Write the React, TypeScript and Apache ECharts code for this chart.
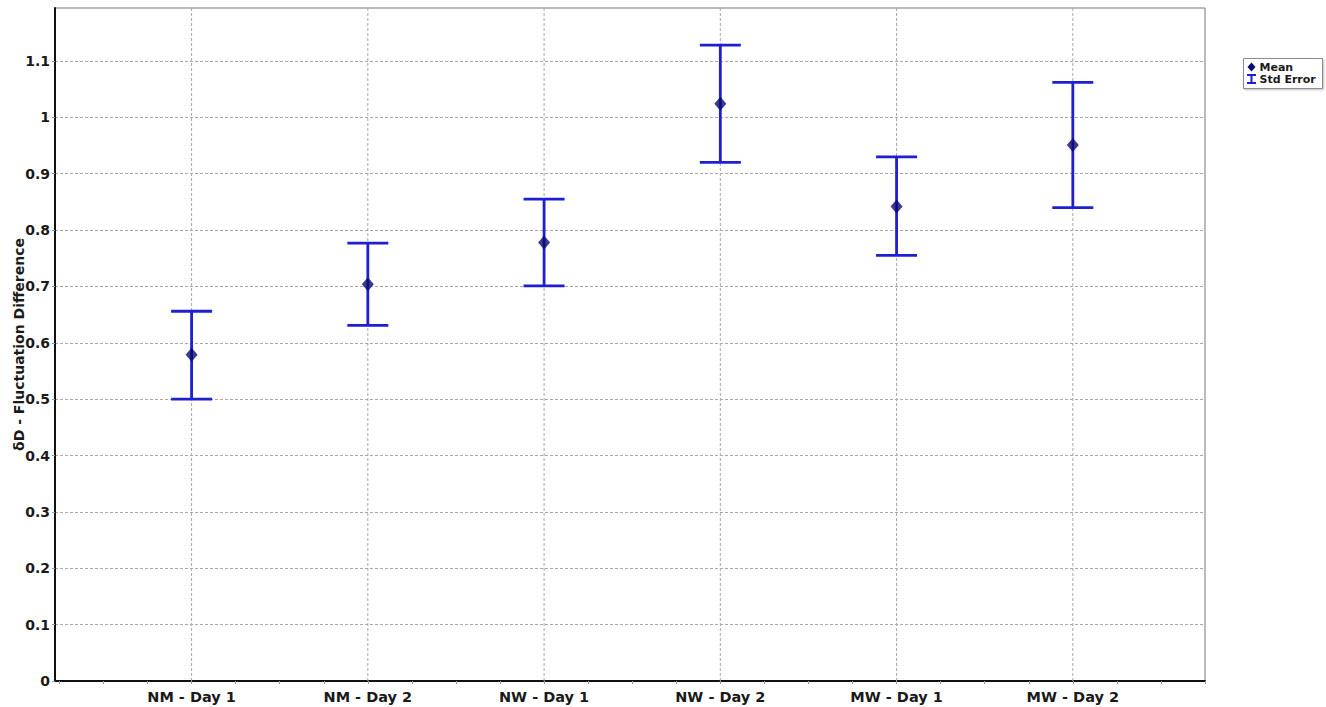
import React, { useEffect, useRef } from "react";
import * as echarts from "echarts";

// Groups along the horizontal axis
const categories = ["NM - Day 1", "NM - Day 2", "NW - Day 1", "NW - Day 2", "MW - Day 1", "MW - Day 2"];
// Mean of δD fluctuation difference per group
const means = [0.579, 0.704, 0.778, 1.024, 0.842, 0.951];
// Mean ± standard error bounds
const upperBounds = [0.656, 0.777, 0.855, 1.128, 0.930, 1.062];
const lowerBounds = [0.500, 0.631, 0.701, 0.920, 0.755, 0.840];
// Value-axis tick labels
const yTicks = [0, 0.1, 0.2, 0.3, 0.4, 0.5, 0.6, 0.7, 0.8, 0.9, 1, 1.1];

const FONT = "'DejaVu Sans', 'Liberation Sans', Arial, sans-serif";
const BAR_COLOR = "#1f1fd2";
const MEAN_COLOR = "#0a0a70";
const GRID_COLOR = "#a8a8a8";
const Y_MIN = 0;
const Y_MAX = 1.194;

export default function App() {
  const ref = useRef<HTMLDivElement>(null);

  useEffect(() => {
    if (!ref.current) return;
    const chart = echarts.init(ref.current, null, { renderer: "svg" });

    const positions = categories.map((_, i) => i + 1);
    const minorTicks: number[] = [];
    for (let k = 1; k <= 27; k++) minorTicks.push(k * 0.25);

    const option: any = {
      animation: false,
      backgroundColor: "#ffffff",
      grid: {
        left: 55,
        top: 8,
        right: 121,
        bottom: 26,
        outerBoundsMode: "none",
        containLabel: false,
        show: true,
        borderColor: "#777777",
        borderWidth: 1,
        backgroundColor: "#ffffff",
      },
      xAxis: {
        type: "value",
        min: 0.225,
        max: 6.75,
        axisLine: { show: true, onZero: false, lineStyle: { color: "#111111", width: 2 } },
        axisTick: {
          show: true,
          customValues: minorTicks,
          length: 3,
          lineStyle: { color: "#999999", width: 1 },
        },
        axisLabel: {
          customValues: positions,
          formatter: (v: number) => categories[Math.round(v) - 1] ?? "",
          color: "#1a1a1a",
          fontFamily: FONT,
          fontWeight: "bold",
          fontSize: 14.5,
          margin: 8,
        },
        splitLine: { show: false },
      },
      yAxis: {
        type: "value",
        min: Y_MIN,
        max: Y_MAX,
        interval: 0.1,
        name: "δD - Fluctuation Difference",
        nameLocation: "middle",
        nameGap: 29,
        nameMoveOverlap: false,
        nameTextStyle: {
          color: "#1a1a1a",
          fontFamily: FONT,
          fontWeight: "bold",
          fontSize: 14,
        },
        axisLine: { show: true, lineStyle: { color: "#111111", width: 2 } },
        axisTick: {
          show: true,
          customValues: yTicks,
          length: 3,
          lineStyle: { color: "#999999" },
        },
        axisLabel: {
          customValues: yTicks,
          formatter: (v: number) => String(Math.round(v * 10) / 10),
          color: "#1a1a1a",
          fontFamily: FONT,
          fontWeight: "bold",
          fontSize: 14,
          margin: 5,
        },
        splitLine: {
          show: true,
          lineStyle: { color: GRID_COLOR, type: [3, 2], width: 1 },
        },
      },
      series: [
        {
          // vertical grid lines at each group position, behind the marks
          type: "custom",
          silent: true,
          z: 1,
          data: positions.map((p) => [p]),
          renderItem: (params: any, api: any) => {
            const x = api.value(0);
            const bottom = api.coord([x, Y_MIN]);
            const top = api.coord([x, Y_MAX]);
            return {
              type: "line",
              shape: { x1: bottom[0], y1: bottom[1], x2: top[0], y2: top[1] },
              style: { stroke: GRID_COLOR, lineWidth: 1, lineDash: [3, 2] },
            };
          },
        },
        {
          name: "Std Error",
          type: "custom",
          z: 3,
          data: positions.map((p, i) => [p, lowerBounds[i], upperBounds[i]]),
          renderItem: (params: any, api: any) => {
            const x = api.value(0);
            const lo = api.coord([x, api.value(1)]);
            const hi = api.coord([x, api.value(2)]);
            const half = 20.5;
            const style = { stroke: BAR_COLOR, lineWidth: 2.8, fill: "none" };
            return {
              type: "group",
              children: [
                { type: "line", shape: { x1: hi[0], y1: hi[1], x2: lo[0], y2: lo[1] }, style },
                { type: "line", shape: { x1: hi[0] - half, y1: hi[1], x2: hi[0] + half, y2: hi[1] }, style },
                { type: "line", shape: { x1: lo[0] - half, y1: lo[1], x2: lo[0] + half, y2: lo[1] }, style },
              ],
            };
          },
        },
        {
          name: "Mean",
          type: "scatter",
          z: 5,
          symbol: "diamond",
          symbolSize: [12, 14],
          itemStyle: { color: MEAN_COLOR },
          data: positions.map((p, i) => [p, means[i]]),
        },
      ],
      graphic: [
        {
          type: "group",
          left: 1243,
          top: 58,
          children: [
            {
              type: "rect",
              shape: { x: 0, y: 0, width: 79, height: 30 },
              style: {
                fill: "#ffffff",
                stroke: "#8c8c8c",
                lineWidth: 1,
                shadowColor: "rgba(0,0,0,0.25)",
                shadowBlur: 2,
                shadowOffsetX: 1,
                shadowOffsetY: 1,
              },
            },
            {
              type: "polygon",
              shape: { points: [[8, 4], [12, 8.5], [8, 13], [4, 8.5]] },
              style: { fill: MEAN_COLOR },
            },
            {
              type: "text",
              x: 16,
              y: 8.5,
              style: {
                text: "Mean",
                fill: "#1a1a1a",
                font: `bold 11px ${FONT}`,
                verticalAlign: "middle",
              },
            },
            { type: "line", shape: { x1: 8, y1: 16.5, x2: 8, y2: 24.5 }, style: { stroke: BAR_COLOR, lineWidth: 2 } },
            { type: "line", shape: { x1: 3.5, y1: 16.5, x2: 12.5, y2: 16.5 }, style: { stroke: BAR_COLOR, lineWidth: 2 } },
            { type: "line", shape: { x1: 3.5, y1: 24.5, x2: 12.5, y2: 24.5 }, style: { stroke: BAR_COLOR, lineWidth: 2 } },
            {
              type: "text",
              x: 16,
              y: 20.5,
              style: {
                text: "Std Error",
                fill: "#1a1a1a",
                font: `bold 11px ${FONT}`,
                verticalAlign: "middle",
              },
            },
          ],
        },
      ],
    };

    chart.setOption(option);
    return () => chart.dispose();
  }, []);

  return (
    <div
      ref={ref}
      style={{ position: "fixed", left: 0, top: 0, width: 1326, height: 707, background: "#ffffff" }}
    />
  );
}
